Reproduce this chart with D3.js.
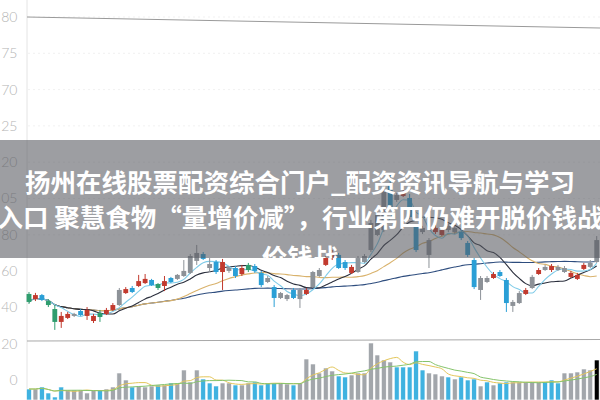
<!DOCTYPE html>
<html><head><meta charset="utf-8">
<script src="https://cdn.jsdelivr.net/npm/d3@7"></script>
<style>html,body{margin:0;padding:0;background:#fff;}svg{display:block;}</style>
</head><body>
<svg id="c" width="600" height="400"></svg>
<script>
// ---------------- data ----------------
const opens  = [47.4,44.6,46.8,43.5,39.1,32.0,34.2,36.4,38.0,35.3,32.5,36.9,36.4,38.6,41.3,47.9,50.7,51.8,53.4,55.1,52.9,51.8,56.2,55.7,57.3,59.0,65.6,69.4,63.9,65.0,59.5,61.7,61.7,58.4,63.4,62.8,59.0,56.2,51.2,45.2,46.8,49.6,44.6,47.4,51.2,57.3,63.4,67.2,68.9,65.0,59.0,59.5,65.0,71.6,79.9,82.6,108.5,99.2,101.4,100.3,84.3,81.5,77.1,81.5,79.9,82.6,83.8,81.5,75.5,66.1,49.6,54.0,56.2,59.5,55.1,40.8,42.4,47.4,50.7,58.4,60.6,60.6,62.3,61.7,56.8,55.7,61.2,62.3,65.0];
const closes = [43.0,46.8,44.1,41.3,32.0,35.3,36.4,35.3,35.8,38.6,35.3,34.7,38.6,41.3,49.6,50.1,48.5,54.5,55.7,52.3,50.7,54.5,54.0,57.9,60.1,68.3,70.0,66.7,61.7,59.5,65.0,60.1,57.3,61.7,60.6,60.1,52.3,54.0,45.2,47.9,44.6,45.2,49.6,49.6,59.5,60.6,67.2,70.5,61.7,61.7,62.3,67.2,68.3,86.5,90.9,104.7,95.3,101.9,103.6,89.8,71.6,83.8,68.9,83.8,82.6,84.9,81.5,78.2,68.9,51.2,56.2,56.2,58.4,57.3,42.4,43.0,47.9,49.6,56.8,60.6,62.3,62.8,60.6,59.5,59.0,57.9,63.4,64.5,77.1];
const highs  = [48.5,48.0,47.4,44.6,41.3,37.5,37.5,37.0,39.1,40.2,36.4,38.6,39.7,42.4,50.7,51.2,51.8,57.9,58.4,55.7,53.4,57.3,56.8,58.4,66.1,69.4,74.4,70.5,67.2,66.1,66.7,62.3,62.8,63.4,64.5,63.9,60.1,57.3,52.3,48.5,47.4,50.7,50.7,50.7,60.1,61.7,68.3,71.6,70.0,66.1,63.4,68.3,69.4,88.2,93.1,107.5,113.0,103.0,104.7,102.5,85.4,84.9,78.2,85.4,84.3,86.0,84.9,82.6,76.6,67.2,57.3,57.3,59.5,60.6,56.2,44.1,49.0,50.7,57.9,61.7,63.4,63.9,63.4,62.8,60.1,59.0,64.5,66.1,79.3];
const lows   = [41.9,43.5,43.5,40.2,27.6,28.7,33.6,34.7,35.3,33.1,31.4,32.0,35.8,38.0,40.8,47.4,47.9,51.2,52.9,51.8,49.6,49.0,53.4,55.1,56.8,58.4,63.4,66.1,59.5,58.4,49.6,59.0,56.2,57.3,59.5,59.0,51.2,53.4,40.2,44.6,43.5,44.6,39.7,46.8,50.7,56.8,62.8,66.1,61.2,60.6,58.4,59.0,64.5,70.5,79.3,81.5,94.2,98.1,100.8,88.7,70.5,80.4,61.7,80.4,79.3,81.5,80.4,77.1,67.8,50.1,44.1,53.4,55.7,56.8,37.5,37.5,41.9,46.8,50.1,57.9,60.1,59.5,60.1,59.0,56.2,55.1,60.6,61.7,64.5];
// candle category: r = red, b = blue, g = green, k = grey
const candleKinds = "grbggrrkbrrgrrkrbrrbgrbkkkkbkbrkbrgbbkbkkbkrkkrrbbrkkkkkbkrbbkkrrkkbbbkkrbbkkrkrkrkkrrrkk".split("");
const volumes = [11,11,13,7,3,13,10,10,10,7,10,10,11,13,27,20,13,14,13,14,15,15,17,17,30,18,30,21,17,14,17,17,15,15,17,18,15,17,17,17,16,15,17,41,36,27,32,29,24,23,25,27,27,57,45,40,38,33,33,33,49,30,27,26,24,23,21,23,20,21,14,18,15,17,18,18,18,18,18,18,18,20,17,27,27,28,31,30,40];
const volumeKinds = "bkbbbbkkkkkbkkkkbkkkbkbkkkkbbbkkbkkbbbbkkbkkkkkkbbkkkkkkkbbbbbkkkbkbbbkbkbbkkkkkbbbkkkkk".split("");
const tickValues = [200,180,160,140,120,100,80,60,40,20,0];
const tickLabels = ["80","75","70","25","20","05","80","60","40","20","0"];
const titleLines = ["扬州在线股票配资综合门户_配资资讯导航与学习",
                    "入口 聚慧食物“量增价减”，行业第四仍难开脱价钱战",
                    "价钱战"];

// ---------------- drawing ----------------
const svg = d3.select("#c");
const W = 600, H = 400;
const x = d3.scaleBand().domain(d3.range(closes.length)).range([25.8, 599.9]).paddingInner(0.25).paddingOuter(0.12);
const y = d3.scaleLinear().domain([0, 200]).range([380, 17]);
const yv = d3.scaleLinear().domain([0, 60]).range([400, 340]);
const cx = i => x(i) + x.bandwidth() / 2;

const candleColor = {r:"#c23a2e", b:"#2a9fd6", g:"#2f9d6e", k:"#8d9298"};
const volColor = {b:"#3fb2e0", k:"#a2a6ab"};

// faint grid
svg.append("g").selectAll("line").data(tickValues.slice(0,7)).join("line")
  .attr("x1", 28).attr("x2", W).attr("y1", d => y(d)).attr("y2", d => y(d))
  .attr("stroke", "#f1f1f1").attr("stroke-dasharray", "2,3");

// axis
const axis = d3.axisLeft(y).tickValues(tickValues).tickSize(0).tickPadding(0)
  .tickFormat((d, i) => tickLabels[i]);
const ga = svg.append("g").attr("transform", "translate(17.5,0)").call(axis);
ga.select(".domain").remove();
ga.selectAll("text").attr("fill", "#b4b4b4").attr("font-size", 14)
  .attr("font-family", "Lato, 'Open Sans', sans-serif").attr("font-weight", 300);
svg.append("line").attr("x1", 27).attr("x2", 27).attr("y1", 0).attr("y2", H).attr("stroke", "#e4e4e4");

// top border and separator
svg.append("line").attr("x1", 27).attr("y1", 17).attr("x2", W).attr("y2", 28).attr("stroke", "#9a9a9a").attr("stroke-width", 1);
svg.append("line").attr("x1", 27).attr("y1", 341).attr("x2", W).attr("y2", 339.5).attr("stroke", "#a8a8a8").attr("stroke-width", 1);

// volume bars
svg.append("g").selectAll("rect").data(volumes).join("rect")
  .attr("x", (d, i) => x(i)).attr("width", x.bandwidth())
  .attr("y", d => yv(d)).attr("height", d => H - yv(d))
  .attr("fill", (d, i) => volColor[volumeKinds[i]]).attr("stroke", "#fff").attr("stroke-width", 0.6);

// volume MAs
function ma(arr, n) { return arr.map((_, i) => d3.mean(arr.slice(Math.max(0, i - n + 1), i + 1))); }
const vline = d3.line().x((d, i) => cx(i)).y(d => yv(d)).curve(d3.curveMonotoneX);
svg.append("path").attr("d", vline(ma(volumes, 5))).attr("fill", "none").attr("stroke", "#e3c65a").attr("stroke-width", 1);
svg.append("path").attr("d", vline(ma(volumes, 10))).attr("fill", "none").attr("stroke", "#86c46c").attr("stroke-width", 1);

// price MAs
const pline = d3.line().x((d, i) => cx(i)).y(d => y(d)).curve(d3.curveMonotoneX);
const maDefs = [[60, "#2e4d7e"], [20, "#d9b26c"], [10, "#2b2f3d"], [5, "#7fcbe8"]];
maDefs.forEach(([n, c]) => {
  svg.append("path").attr("d", pline(ma(closes, n))).attr("fill", "none").attr("stroke", c).attr("stroke-width", 1.1);
});

// candles
const gc = svg.append("g");
gc.selectAll("line").data(closes).join("line")
  .attr("x1", (d, i) => cx(i)).attr("x2", (d, i) => cx(i))
  .attr("y1", (d, i) => y(highs[i])).attr("y2", (d, i) => y(lows[i]))
  .attr("stroke", (d, i) => candleColor[candleKinds[i]]).attr("stroke-width", 1);
gc.selectAll("rect").data(closes).join("rect")
  .attr("x", (d, i) => x(i)).attr("width", x.bandwidth())
  .attr("y", (d, i) => y(Math.max(opens[i], d)))
  .attr("height", (d, i) => Math.max(1, Math.abs(y(opens[i]) - y(d))))
  .attr("fill", (d, i) => candleColor[candleKinds[i]]);

// overlay band with title
const bandTop = 140, bandBottom = 258;
svg.append("rect").attr("x", 0).attr("y", bandTop).attr("width", W).attr("height", bandBottom - bandTop)
  .attr("fill", "rgb(86,88,94)").attr("fill-opacity", 0.58);
svg.append("clipPath").attr("id", "bandclip").append("rect")
  .attr("x", 0).attr("y", bandTop).attr("width", W).attr("height", bandBottom - bandTop);
const baselines = [192, 227, 267];
svg.append("g").attr("clip-path", "url(#bandclip)").selectAll("text").data(titleLines).join("text")
  .attr("x", 300).attr("y", (d, i) => baselines[i]).attr("text-anchor", "middle")
  .attr("fill", "#fff").attr("font-size", 25.5).attr("font-weight", 700)
  .attr("font-family", "'Noto Sans CJK SC', 'Noto Sans', sans-serif")
  .text(d => d);
</script>
</body></html>
